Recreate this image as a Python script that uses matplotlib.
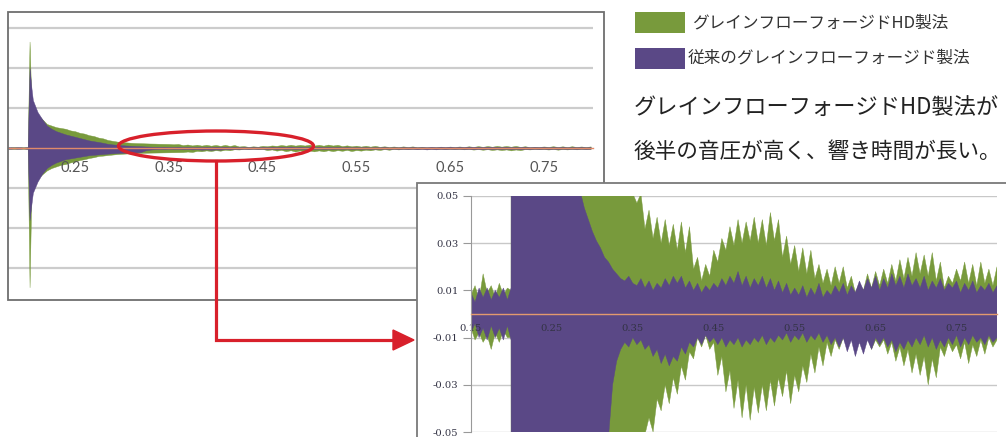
import matplotlib
matplotlib.use('Agg')
import numpy as np
import matplotlib.pyplot as plt
from matplotlib.patches import Rectangle, Ellipse, Polygon

# sample times (s): irregular around the strike, then every 5 ms
t_start = [0.150, 0.155, 0.160, 0.165, 0.170, 0.175, 0.180, 0.185, 0.190, 0.195,
           0.1995, 0.2015, 0.2035]
t = t_start + list(np.round(np.arange(0.205, 0.8001, 0.005), 3))

# peak envelopes (upper / lower)
hd_up = [0.008, 0.012, 0.006, 0.017, 0.009, 0.012, 0.007, 0.013, 0.008, 0.011, 0.010, 1.33, 0.55,
         0.50, 0.42, 0.36, 0.30, 0.28, 0.26, 0.25, 0.24, 0.22, 0.21,
         0.19, 0.18, 0.16, 0.15, 0.13, 0.12, 0.10, 0.09, 0.08, 0.075,
         0.07, 0.065, 0.062, 0.06, 0.058, 0.056, 0.055, 0.053, 0.052, 0.051,
         0.047, 0.051, 0.036, 0.044, 0.032, 0.041, 0.030, 0.040, 0.029, 0.038,
         0.027, 0.039, 0.026, 0.037, 0.019, 0.024, 0.014, 0.021, 0.016, 0.027,
         0.022, 0.032, 0.027, 0.037, 0.029, 0.040, 0.030, 0.039, 0.031, 0.041,
         0.030, 0.040, 0.029, 0.043, 0.031, 0.040, 0.024, 0.033, 0.021, 0.029,
         0.018, 0.028, 0.017, 0.027, 0.015, 0.021, 0.013, 0.019, 0.012, 0.020,
         0.013, 0.020, 0.011, 0.016, 0.009, 0.013, 0.010, 0.017, 0.011, 0.018,
         0.012, 0.019, 0.013, 0.021, 0.014, 0.023, 0.015, 0.024, 0.016, 0.026,
         0.017, 0.025, 0.016, 0.026, 0.014, 0.022, 0.011, 0.016, 0.013, 0.019,
         0.014, 0.022, 0.013, 0.021, 0.012, 0.022, 0.013, 0.019, 0.012, 0.020]
hd_lo = [-0.006, -0.011, -0.008, -0.012, -0.009, -0.015, -0.008, -0.012, -0.007, -0.010, -0.010, -1.74, -0.50,
         -0.45, -0.38, -0.33, -0.28, -0.25, -0.23, -0.21, -0.20, -0.18, -0.17,
         -0.15, -0.14, -0.125, -0.115, -0.10, -0.095, -0.088, -0.082, -0.076, -0.072,
         -0.069, -0.066, -0.064, -0.062, -0.060, -0.058, -0.057, -0.056, -0.055, -0.054,
         -0.053, -0.052, -0.051, -0.044, -0.050, -0.036, -0.041, -0.030, -0.038, -0.027,
         -0.034, -0.022, -0.028, -0.016, -0.019, -0.010, -0.014, -0.009, -0.015, -0.012,
         -0.026, -0.018, -0.033, -0.024, -0.040, -0.028, -0.044, -0.030, -0.045, -0.031,
         -0.042, -0.030, -0.041, -0.028, -0.039, -0.027, -0.035, -0.024, -0.038, -0.026,
         -0.033, -0.022, -0.029, -0.017, -0.025, -0.014, -0.022, -0.012, -0.018, -0.011,
         -0.015, -0.010, -0.014, -0.009, -0.013, -0.009, -0.014, -0.010, -0.015, -0.011,
         -0.014, -0.011, -0.017, -0.012, -0.020, -0.014, -0.022, -0.015, -0.025, -0.017,
         -0.026, -0.018, -0.030, -0.019, -0.027, -0.014, -0.018, -0.012, -0.016, -0.013,
         -0.019, -0.012, -0.021, -0.013, -0.018, -0.011, -0.017, -0.010, -0.014, -0.011]

old_up = [0.009, 0.005, 0.011, 0.007, 0.011, 0.006, 0.010, 0.007, 0.011, 0.006, 0.011, 1.00, 0.75,
          0.60, 0.45, 0.36, 0.28, 0.24, 0.21, 0.19, 0.17, 0.155, 0.14,
          0.125, 0.11, 0.095, 0.085, 0.075, 0.065, 0.052, 0.045, 0.040, 0.035,
          0.031, 0.028, 0.024, 0.022, 0.019, 0.017, 0.015, 0.014, 0.016, 0.013,
          0.012, 0.015, 0.011, 0.014, 0.010, 0.013, 0.011, 0.015, 0.012, 0.016,
          0.013, 0.016, 0.011, 0.014, 0.010, 0.013, 0.009, 0.012, 0.010, 0.013,
          0.011, 0.015, 0.012, 0.016, 0.013, 0.018, 0.012, 0.016, 0.011, 0.015,
          0.012, 0.016, 0.011, 0.015, 0.010, 0.014, 0.009, 0.013, 0.008, 0.011,
          0.008, 0.012, 0.007, 0.011, 0.008, 0.013, 0.007, 0.010, 0.008, 0.012,
          0.009, 0.013, 0.008, 0.012, 0.009, 0.014, 0.010, 0.015, 0.011, 0.016,
          0.010, 0.015, 0.011, 0.017, 0.012, 0.016, 0.011, 0.017, 0.012, 0.015,
          0.011, 0.016, 0.010, 0.014, 0.011, 0.015, 0.010, 0.013, 0.011, 0.014,
          0.009, 0.013, 0.010, 0.014, 0.009, 0.012, 0.010, 0.013, 0.009, 0.012]
old_lo = [-0.008, -0.004, -0.010, -0.006, -0.011, -0.005, -0.010, -0.006, -0.011, -0.005, -0.011, -0.90, -0.70,
          -0.56, -0.42, -0.32, -0.25, -0.21, -0.18, -0.16, -0.14, -0.13, -0.12,
          -0.11, -0.10, -0.09, -0.085, -0.08, -0.075, -0.07, -0.066, -0.063, -0.06,
          -0.058, -0.056, -0.054, -0.052, -0.030, -0.020, -0.015, -0.012, -0.014, -0.010,
          -0.013, -0.011, -0.015, -0.013, -0.018, -0.015, -0.021, -0.017, -0.022, -0.018,
          -0.020, -0.014, -0.017, -0.012, -0.014, -0.010, -0.013, -0.009, -0.012, -0.010,
          -0.013, -0.010, -0.014, -0.011, -0.013, -0.010, -0.014, -0.011, -0.013, -0.010,
          -0.012, -0.009, -0.013, -0.010, -0.012, -0.009, -0.011, -0.008, -0.012, -0.009,
          -0.011, -0.008, -0.012, -0.009, -0.011, -0.008, -0.012, -0.009, -0.013, -0.010,
          -0.014, -0.010, -0.016, -0.011, -0.018, -0.012, -0.017, -0.011, -0.015, -0.010,
          -0.013, -0.010, -0.014, -0.011, -0.016, -0.012, -0.015, -0.011, -0.014, -0.010,
          -0.013, -0.009, -0.014, -0.010, -0.015, -0.011, -0.014, -0.010, -0.013, -0.009,
          -0.014, -0.010, -0.013, -0.009, -0.012, -0.010, -0.013, -0.009, -0.012, -0.010]

main_ticks = [0.25, 0.35, 0.45, 0.55, 0.65, 0.75]
main_grid = [-1.5, -1.0, -0.5, 0.5, 1.0, 1.5]
inset_xticks = [0.15, 0.25, 0.35, 0.45, 0.55, 0.65, 0.75]
inset_yticks = [-0.05, -0.03, -0.01, 0.01, 0.03, 0.05]

legend_hd = 'グレインフローフォージドHD製法'
legend_old = '従来のグレインフローフォージド製法'
note1 = 'グレインフローフォージドHD製法が'
note2 = '後半の音圧が高く、響き時間が長い。'

GREEN = '#789a3c'
PURPLE = '#5a4886'
ZERO = '#e39a6e'
RED = '#d8202b'
W, H = 1006, 437

fig = plt.figure(figsize=(W / 100, H / 100), dpi=100)


def box(l, t_, r, b):
    return [l / W, 1 - b / H, (r - l) / W, (b - t_) / H]


# main chart
ax = fig.add_axes(box(8, 13, 593, 300), zorder=1)
for g in main_grid:
    ax.axhline(g, color='#cccccc', lw=1.6, zorder=0.5)
ax.fill_between(t, hd_lo, hd_up, color=GREEN, lw=0.3, edgecolor=GREEN)
ax.fill_between(t, old_lo, old_up, color=PURPLE, lw=0.3, edgecolor=PURPLE)
ax.set_xlim(0.1785, 0.8025)
ax.set_ylim(-1.9, 1.6875)
ax.set_yticks([])
for s in ['top', 'right', 'left']:
    ax.spines[s].set_visible(False)
ax.spines['bottom'].set_position(('data', 0))
ax.spines['bottom'].set_color('#e08a6a')
ax.spines['bottom'].set_linewidth(1.0)
ax.set_xticks(main_ticks)
ax.set_xticklabels([f'{v:.2f}' for v in main_ticks])
ax.tick_params(axis='x', length=0, pad=9, labelsize=10.5, labelcolor='#555555')
for lab in ax.get_xticklabels():
    lab.set_family('Lato')
ax.patch.set_alpha(0)

# overlay in pixel coordinates
ov = fig.add_axes([0, 0, 1, 1], zorder=2)
ov.set_xlim(0, W)
ov.set_ylim(H, 0)
ov.axis('off')
ov.patch.set_alpha(0)
ov.add_patch(Rectangle((8, 12), 596, 288, fill=False, edgecolor='#6e6e6e', lw=1.3))
ov.add_patch(Ellipse((216, 146), 195, 30, fill=False, edgecolor=RED, lw=2.4))
ov.plot([216, 216, 396], [161, 340, 340], color=RED, lw=2.3, solid_joinstyle='miter')
ov.add_patch(Polygon([[393, 330], [414, 340], [393, 350]], closed=True, color=RED))
ov.add_patch(Rectangle((417, 183), 600, 270, facecolor='white', edgecolor='#7a7a7a', lw=1.3))

ov.add_patch(Rectangle((635, 12), 50, 21, color=GREEN, lw=0))
ov.add_patch(Rectangle((635, 48), 50, 21, color=PURPLE, lw=0))
jp = ['Noto Sans CJK JP', 'DejaVu Sans']
ov.text(692, 23, legend_hd, family=jp, fontsize=12, color='#333333', va='center', ha='left')
ov.text(688, 58, legend_old, family=jp, fontsize=12, color='#333333', va='center', ha='left')
ov.text(634, 107, note1, family=jp, fontsize=16, color='#222222', va='center', ha='left')
ov.text(634, 152, note2, family=jp, fontsize=15.6, color='#222222', va='center', ha='left')

# zoomed inset
ax2 = fig.add_axes(box(471, 196, 997, 432), zorder=3)
for g in inset_yticks:
    ax2.axhline(g, color='#c8c8c8', lw=1.0, zorder=0.5)
ax2.fill_between(t, hd_lo, hd_up, color=GREEN, lw=0.3, edgecolor=GREEN)
ax2.fill_between(t, old_lo, old_up, color=PURPLE, lw=0.3, edgecolor=PURPLE)
ax2.set_xlim(0.15, 0.80)
ax2.set_ylim(-0.05, 0.05)
ax2.set_yticks(inset_yticks)
ax2.set_yticklabels([f'{v:.2f}' for v in inset_yticks])
ax2.tick_params(axis='y', length=6, width=0.8, color='#999999', pad=3,
                labelsize=7.2, labelcolor='#333344')
for s in ['top', 'right']:
    ax2.spines[s].set_visible(False)
ax2.spines['left'].set_color('#999999')
ax2.spines['left'].set_linewidth(0.8)
ax2.spines['bottom'].set_position(('data', 0))
ax2.spines['bottom'].set_color(ZERO)
ax2.spines['bottom'].set_linewidth(1.0)
ax2.set_xticks(inset_xticks)
ax2.set_xticklabels([f'{v:.2f}' for v in inset_xticks])
ax2.tick_params(axis='x', length=0, pad=7, labelsize=7.2, labelcolor='#333344')
for lab in ax2.get_xticklabels() + ax2.get_yticklabels():
    lab.set_family('DejaVu Serif')
ax2.patch.set_alpha(0)

fig.savefig('out.png', dpi=100)
